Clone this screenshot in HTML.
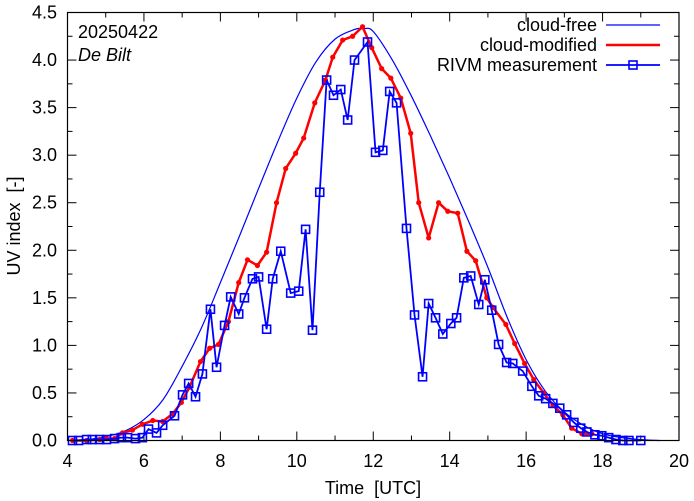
<!DOCTYPE html>
<html><head><meta charset="utf-8"><style>
html,body{margin:0;padding:0;background:#fff}
svg{display:block;font-family:"Liberation Sans",sans-serif}
text{white-space:pre}
</style></head><body>
<svg id="chart" width="694" height="501" viewBox="0 0 694 501">
<rect x="0" y="0" width="694" height="501" fill="#fff"/>
<g id="grid"></g>
<g id="series"></g>
<rect x="67.5" y="12.5" width="611.5" height="428" fill="none" stroke="#000" stroke-width="1.2"/>
<text x="78" y="38" font-size="18">20250422</text>
<text x="78" y="61" font-size="18" font-style="italic">De Bilt</text>
<g>
<text x="597" y="31" font-size="18" text-anchor="end">cloud-free</text>
<line x1="606" y1="25" x2="660" y2="25" stroke="#0000ff" stroke-width="1.2"/>
<text x="597" y="51" font-size="18" text-anchor="end">cloud-modified</text>
<line x1="606" y1="45" x2="660" y2="45" stroke="#ff0000" stroke-width="2.5"/>
<text x="597" y="71" font-size="18" text-anchor="end">RIVM measurement</text>
<line x1="606" y1="65" x2="660" y2="65" stroke="#0000ff" stroke-width="1.8"/>
<rect x="629" y="61" width="8" height="8" fill="none" stroke="#0000ff" stroke-width="1.6"/>
</g>
<text x="373" y="494" font-size="18" text-anchor="middle">Time  [UTC]</text>
<text transform="translate(20,226) rotate(-90)" font-size="18" text-anchor="middle">UV index  [-]</text>
</svg>
<script>
const xTicks=[4,6,8,10,12,14,16,18,20];
const yTicks=[0,0.5,1,1.5,2,2.5,3,3.5,4,4.5];
const yTickLabels=["0.0","0.5","1.0","1.5","2.0","2.5","3.0","3.5","4.0","4.5"];
const cfTimes=[4,4.5,5,5.5,6,6.5,7,7.5,8,8.5,9,9.5,10,10.5,11,11.5,11.75,12,12.5,13,13.5,14,14.5,15,15.5,16,16.5,17,17.5,18,18.5,19,19.5];
const cfValues=[0,0.01,0.04,0.1,0.22,0.43,0.78,1.18,1.66,2.15,2.65,3.14,3.6,3.98,4.22,4.32,4.33,4.3,4.0,3.62,3.2,2.76,2.3,1.82,1.3,0.85,0.52,0.3,0.16,0.07,0.03,0.01,0];
const cmTimes=[4.13,4.5,4.84,5.02,5.23,5.44,5.70,5.96,6.23,6.49,6.75,6.98,7.19,7.48,7.72,7.95,8.21,8.48,8.71,8.97,9.21,9.47,9.71,9.97,10.18,10.47,10.75,10.94,11.20,11.46,11.72,11.96,12.22,12.46,12.72,12.98,13.19,13.45,13.71,13.95,14.21,14.45,14.68,14.97,15.13,15.47,15.70,15.96,16.20,16.46,16.70,16.96,17.19,17.46,17.72];
const cmValues=[0,0,0.01,0.02,0.02,0.08,0.11,0.17,0.21,0.20,0.28,0.40,0.56,0.83,0.97,1.01,1.25,1.66,1.90,1.84,1.98,2.50,2.86,3.02,3.18,3.55,3.79,4.03,4.21,4.25,4.35,4.13,3.91,3.81,3.60,3.23,2.50,2.13,2.50,2.41,2.39,1.99,1.89,1.50,1.40,1.22,1.02,0.81,0.64,0.50,0.37,0.27,0.13,0.07,0.07];
const msTimes=[4.13,4.29,4.50,4.65,4.84,5.02,5.23,5.41,5.57,5.78,5.96,6.12,6.33,6.49,6.80,7.01,7.17,7.35,7.53,7.74,7.90,8.11,8.27,8.48,8.63,8.84,9.00,9.21,9.37,9.58,9.84,10.05,10.23,10.41,10.60,10.78,10.96,11.15,11.33,11.51,11.85,12.06,12.25,12.43,12.61,12.87,13.08,13.29,13.45,13.63,13.82,14.03,14.18,14.37,14.55,14.76,14.92,15.10,15.28,15.49,15.65,15.91,16.15,16.33,16.51,16.70,16.88,17.06,17.25,17.43,17.59,17.80,17.98,18.16,18.35,18.53,18.69,19.0];
const msValues=[0,0,0.01,0.01,0.01,0.01,0.02,0.03,0.03,0.02,0.03,0.12,0.08,0.16,0.26,0.48,0.60,0.46,0.70,1.38,0.77,1.21,1.51,1.33,1.50,1.70,1.72,1.17,1.70,1.99,1.55,1.57,2.22,1.16,2.61,3.79,3.63,3.69,3.37,4.00,4.19,3.03,3.05,3.67,3.55,2.23,1.32,0.67,1.44,1.29,1.12,1.23,1.29,1.71,1.73,1.43,1.69,1.37,1.01,0.82,0.81,0.73,0.57,0.47,0.44,0.39,0.34,0.27,0.19,0.13,0.09,0.06,0.05,0.03,0.01,0,0,0];
const NS='http://www.w3.org/2000/svg';
const X0=67.5,X1=679,Y0=440.5,Y1=12.5;
function sx(t){return X0+(t-4)/16*(X1-X0);}
function sy(v){return Y0-v/4.5*(Y0-Y1);}
function mk(tag,attrs,parent){const e=document.createElementNS(NS,tag);for(const k in attrs)e.setAttribute(k,attrs[k]);parent.appendChild(e);return e;}
const grid=document.getElementById('grid'),ser=document.getElementById('series');
for(let t=5;t<20;t+=2){
 const a=mk('line',{x1:sx(t),x2:sx(t),y1:Y0,y2:Y0-5,stroke:'#000'},grid);
 
 
 const b=mk('line',{x1:sx(t),x2:sx(t),y1:Y1,y2:Y1+5,stroke:'#000'},grid);
 
 
}
xTicks.forEach(t=>{
 const a=mk('line',{x1:sx(t),x2:sx(t),y1:Y0,y2:Y0-9,stroke:'#000'},grid);
 
 
 const b=mk('line',{x1:sx(t),x2:sx(t),y1:Y1,y2:Y1+9,stroke:'#000'},grid);
 
 
 const l=mk('text',{x:sx(t),y:467,'font-size':18,'text-anchor':'middle'},grid);
 l.textContent=String(t);
 
 
});
for(let v=0.25;v<4.5;v+=0.5){
 const a=mk('line',{x1:X0,x2:X0+5,y1:sy(v),y2:sy(v),stroke:'#000'},grid);
 
 
 const b=mk('line',{x1:X1,x2:X1-5,y1:sy(v),y2:sy(v),stroke:'#000'},grid);
 
 
}
yTicks.forEach((v,i)=>{
 const a=mk('line',{x1:X0,x2:X0+9,y1:sy(v),y2:sy(v),stroke:'#000'},grid);
 
 
 const b=mk('line',{x1:X1,x2:X1-9,y1:sy(v),y2:sy(v),stroke:'#000'},grid);
 
 
 const l=mk('text',{x:57,y:sy(v)+6,'font-size':18,'text-anchor':'end'},grid);
 l.textContent=yTickLabels[i];
 
 
});
const P=cfTimes.map((t,i)=>[sx(t),sy(cfValues[i])]);
let d='M'+P[0][0]+','+P[0][1];
for(let i=0;i<P.length-1;i++){
 const p0=P[Math.max(0,i-1)],p1=P[i],p2=P[i+1],p3=P[Math.min(P.length-1,i+2)];
 d+=' C'+(p1[0]+(p2[0]-p0[0])/6)+','+(p1[1]+(p2[1]-p0[1])/6)+' '+(p2[0]-(p3[0]-p1[0])/6)+','+(p2[1]-(p3[1]-p1[1])/6)+' '+p2[0]+','+p2[1];
}
const cf=mk('path',{d:d,fill:'none',stroke:'#0000ff','stroke-width':1.2},ser);


const cm=mk('polyline',{points:cmTimes.map((t,i)=>sx(t)+','+sy(cmValues[i])).join(' '),fill:'none',stroke:'#ff0000','stroke-width':2.5,'stroke-linejoin':'round'},ser);


cmTimes.forEach((t,i)=>{
 const c=mk('circle',{cx:sx(t),cy:sy(cmValues[i]),r:2.6,fill:'#ff0000'},ser);
 
 
});
const ms=mk('polyline',{points:msTimes.map((t,i)=>sx(t)+','+sy(msValues[i])).join(' '),fill:'none',stroke:'#0000ff','stroke-width':1.8},ser);


msTimes.forEach((t,i)=>{
 const r=mk('rect',{x:sx(t)-4,y:sy(msValues[i])-4,width:8,height:8,fill:'none',stroke:'#0000ff','stroke-width':1.6},ser);
 
 
});
</script>
</body></html>
